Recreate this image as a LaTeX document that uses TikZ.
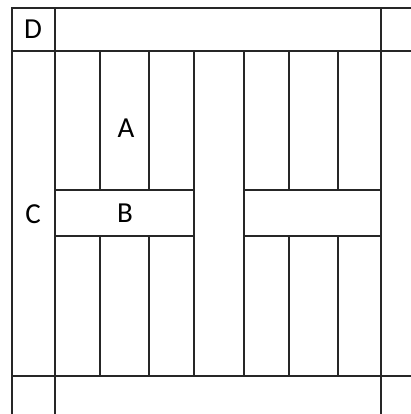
\documentclass[tikz,border=0pt]{standalone}
\usepackage{fontspec}
\setmainfont{Carlito}
\begin{document}
\begin{tikzpicture}[x=1pt,y=-1pt,
  ln/.style={line width=1.4pt,draw=black!85},
  lbl/.style={font=\fontsize{29}{32}\selectfont,inner sep=0pt}]
\useasboundingbox (0,0) rectangle (411,414);
% outer frame lines
\draw[ln] (12,414) -- (12,8) -- (411,8);
\draw[ln] (55,8) -- (55,414);
\draw[ln] (381,8) -- (381,414);
\draw[ln] (12,51) -- (411,51);
\draw[ln] (12,376) -- (411,376);
% strips
\foreach \x in {100,149,289,338} {
  \draw[ln] (\x,51) -- (\x,190);
  \draw[ln] (\x,236) -- (\x,376);
}
\draw[ln] (194,51) rectangle (244,376);
\draw[ln] (55,190) rectangle (194,236);
\draw[ln] (244,190) rectangle (381,236);
% labels
\node[lbl] (d) at (33,29) {D};
\node[lbl] (a) at (126,128) {A};
\node[lbl] (b) at (125,213) {B};
\node[lbl] (c) at (33,214) {C};
\end{tikzpicture}
\end{document}
